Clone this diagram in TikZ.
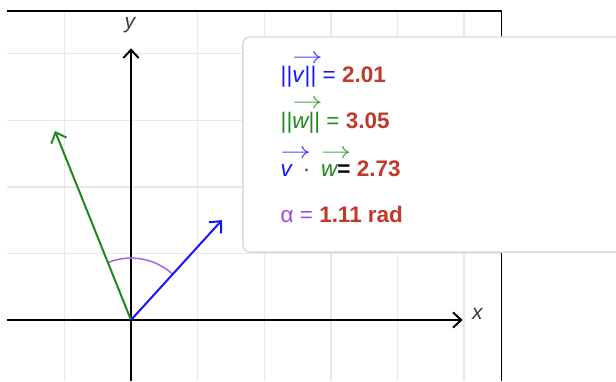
\documentclass[tikz,border=0pt]{standalone}
\usepackage{fontspec}
\usepackage{graphicx}
\setmainfont{Liberation Sans}
\usetikzlibrary{arrows.meta}
\definecolor{vblue}{RGB}{20,20,255}
\definecolor{wgreen}{RGB}{30,135,30}
\definecolor{numred}{RGB}{192,57,43}
\definecolor{apurple}{RGB}{160,70,230}
\definecolor{arcpurple}{RGB}{170,100,230}
\definecolor{gridgray}{RGB}{232,232,232}
\definecolor{boxgray}{RGB}{218,218,218}
\definecolor{labgray}{RGB}{60,60,60}
\newcommand{\vecover}[3]{\makebox[0pt][l]{\raisebox{#3}{\color{#2!85!white}\scalebox{1.3}[1.0]{$\rightarrow$}}}{\color{#2}\itshape #1}}
\tikzset{
  gridline/.style={draw=gridgray, line width=0.6pt},
  axisline/.style={draw=black, line width=0.85pt, -{Straight Barb[length=3.5pt,width=6.5pt]}},
  vecline/.style={line width=0.85pt, -{Straight Barb[length=3.8pt,width=7pt]}},
  frameline/.style={draw=black, line width=0.45pt},
  readout/.style={anchor=base west, inner sep=0pt, font=\fontsize{9.6}{11}\selectfont},
  axlabel/.style={inner sep=0pt, text=labgray, font=\fontsize{9}{10}\selectfont\itshape},
  infobox/.style={draw=boxgray, fill=white, line width=0.6pt, rounded corners=3pt}
}
\begin{document}
\begin{tikzpicture}
\useasboundingbox (-1.967,-0.916) rectangle (7.282,4.805);
\clip (-1.967,-0.916) rectangle (7.282,4.805);
% grid
\foreach \x in {-1,1,2,3,4,5} \draw[gridline] (\x,-0.916) -- (\x,4.64);
\foreach \y in {1,2,3,4} \draw[gridline] (-1.862,\y) -- (5.556,\y);
% frame lines
\draw[frameline] (-1.862,4.64) -- (5.556,4.64) -- (5.556,-0.916);
% axes
\coordinate (O) at (0,0);
\coordinate (XL) at (-1.862,0);
\coordinate (XR) at (4.98,0);
\coordinate (YB) at (0,-0.916);
\coordinate (YT) at (0,4.08);
\draw[axisline] (XL) -- (XR);
\draw[axisline] (YB) -- (YT);
\node[axlabel] (xlab) at (5.2,0.09) {x};
\node[axlabel] (ylab) at (-0.015,4.43) {y};
% vectors
\coordinate (V) at (1.366,1.50);
\coordinate (W) at (-1.141,2.838);
\draw[arcpurple, line width=0.65pt] (47.7:0.93) arc[start angle=47.7, end angle=111.9, radius=0.93];
\draw[vecline, wgreen] (O) -- (W);
\draw[vecline, vblue] (O) -- (V);
% info box
\draw[infobox] (1.68,1.02) rectangle (7.6,4.25);
\node[readout] (l1) at (2.24,3.56) {{\color{vblue}||\vecover{v}{vblue}{8.5pt}\hspace{0.5pt}|| =} {\bfseries\color{numred}2.01}};
\node[readout] (l2) at (2.24,2.88) {{\color{wgreen}||\vecover{w}{wgreen}{8.5pt}|| =} {\bfseries\color{numred}3.05}};
\node[readout] (l3) at (2.24,2.16) {\vecover{v}{vblue}{7.5pt}\hspace{2pt} {\color{labgray}·}\hspace{2pt} \vecover{w}{wgreen}{7.5pt}{\bfseries = \color{numred}2.73}};
\node[readout] (l4) at (2.24,1.46) {{\color{apurple}α =} {\bfseries\color{numred}1.11 rad}};
\end{tikzpicture}
\end{document}
